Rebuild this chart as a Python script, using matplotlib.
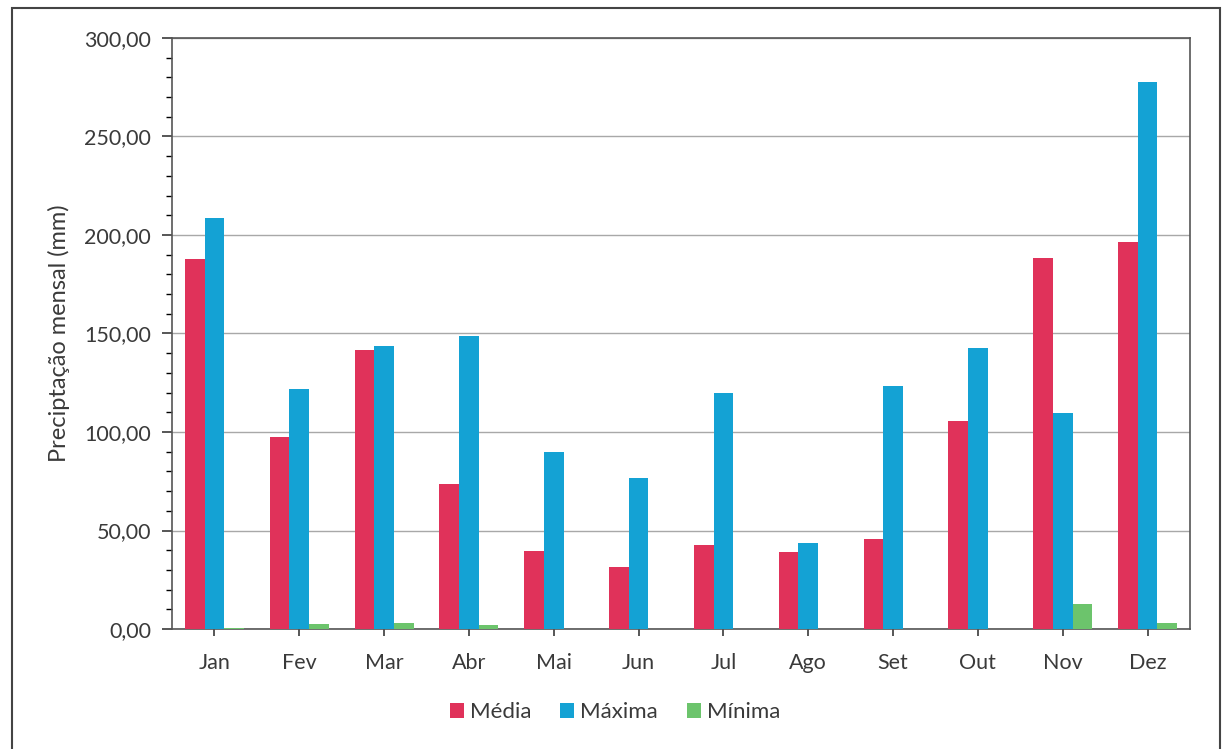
import numpy as np
import matplotlib.pyplot as plt
from matplotlib.patches import Rectangle
from matplotlib.ticker import FuncFormatter, MultipleLocator

plt.rcParams['font.family'] = ['Lato', 'DejaVu Sans']

# Dados
meses = ["Jan", "Fev", "Mar", "Abr", "Mai", "Jun", "Jul", "Ago", "Set", "Out", "Nov", "Dez"]
media = [188.0, 97.5, 141.6, 73.6, 39.6, 31.5, 42.6, 39.0, 45.7, 105.6, 188.3, 196.4]
maxima = [208.6, 121.8, 143.7, 148.7, 89.8, 76.6, 119.8, 43.7, 123.3, 142.6, 109.6, 277.7]
minima = [0.5, 2.5, 3.0, 2.0, 0.0, 0.0, 0.0, 0.0, 0.0, 0.0, 12.7, 3.0]

cor_media = "#E0325A"
cor_max = "#14A2D4"
cor_min = "#6CC46C"

fig = plt.figure(figsize=(12.25, 7.49), dpi=100)
ax = fig.add_axes([0.1404, 0.1602, 0.831, 0.7891])

x = np.arange(len(meses))
w = 0.232
ax.bar(x - w, media, w, color=cor_media, label="Média", zorder=3)
ax.bar(x, maxima, w, color=cor_max, label="Máxima", zorder=3)
ax.bar(x + w, minima, w, color=cor_min, label="Mínima", zorder=3)

ax.set_xlim(-0.5, len(meses) - 0.5)
ax.set_ylim(0, 300)
ax.set_xticks(x)
ax.set_xticklabels(meses)
ax.yaxis.set_major_locator(MultipleLocator(50))
ax.yaxis.set_minor_locator(MultipleLocator(10))
ax.yaxis.set_major_formatter(FuncFormatter(lambda v, p: f"{v:.2f}".replace(".", ",")))
ax.grid(axis="y", color="#A8A8A8", linewidth=1.0, zorder=0)

for s in ax.spines.values():
    s.set_color("#555555")
    s.set_linewidth(1.2)

ax.tick_params(axis="both", labelsize=15.5, colors="#3a3a3a", direction="out")
ax.tick_params(axis="y", which="major", length=7, width=1.2, pad=8)
ax.tick_params(axis="y", which="minor", length=4, width=1.0)
ax.tick_params(axis="x", length=5, width=1.2, pad=12)

ax.set_ylabel("Preciptação mensal (mm)", fontsize=17, color="#3a3a3a", labelpad=10)

ax.legend(loc="upper center", bbox_to_anchor=(0.435, -0.09), ncol=3, frameon=False,
          fontsize=16, handlelength=0.65, handleheight=0.65, handletextpad=0.25,
          columnspacing=1.3, labelcolor="#3a3a3a")

# moldura externa
fig.patches.append(Rectangle((12 / 1225, -0.01), (1220 - 12) / 1225, 1 - 8 / 749 + 0.01,
                             transform=fig.transFigure, fill=False,
                             edgecolor="#444444", linewidth=1.5))

fig.savefig("out.png", dpi=100)
